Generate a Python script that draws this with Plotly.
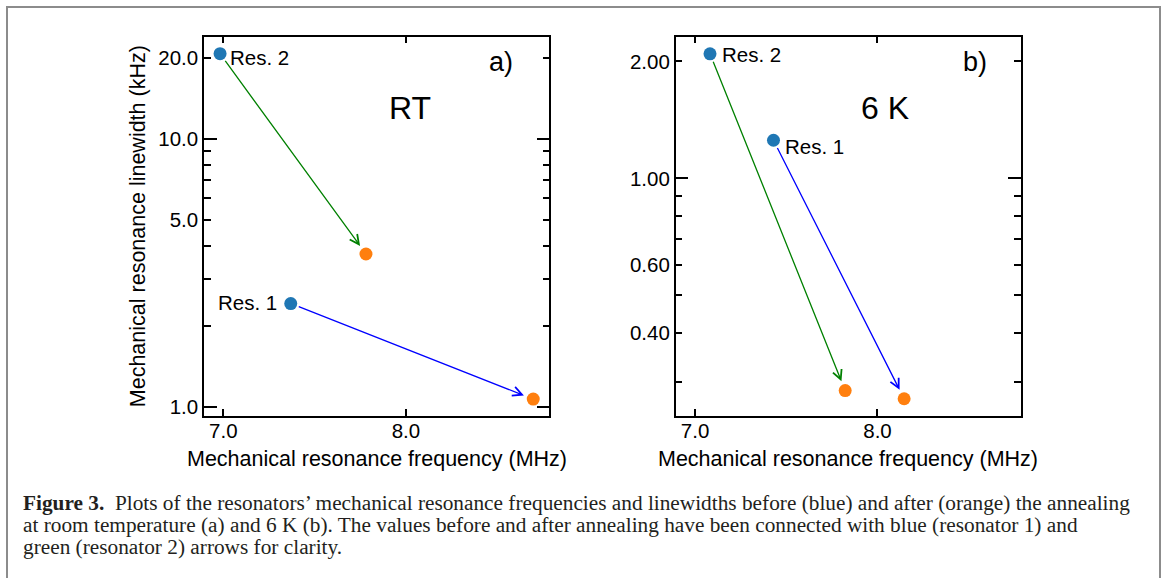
import math
import plotly.graph_objects as go

# ---------------- data ----------------
# order: [Res. 1, Res. 2]
rt_freq_before = [7.369, 6.982]
rt_width_before = [2.43, 20.8]
rt_freq_after = [8.697, 7.781]
rt_width_after = [1.069, 3.72]

k6_freq_before = [7.43, 7.082]
k6_width_before = [1.254, 2.093]
k6_freq_after = [8.146, 7.823]
k6_width_after = [0.271, 0.2845]

res_names = ["Res. 1", "Res. 2"]
arrow_colors = ["blue", "green"]

x_ticks = [7.0, 8.0]
x_ticktext = ["7.0", "8.0"]

rt_y_ticks = [1, 5, 10, 20]
rt_y_ticktext = ["1.0", "5.0", "10.0", "20.0"]
rt_y_minor = [2, 3, 4, 6, 7, 8, 9]
rt_y_major_long = [1, 10]

k6_y_ticks = [0.4, 0.6, 1.0, 2.0]
k6_y_ticktext = ["0.40", "0.60", "1.00", "2.00"]
k6_y_minor = [0.3, 0.5, 0.7, 0.8, 0.9]
k6_y_major_long = [1.0]

caption_lines = [
    "<b>Figure 3.</b>\u00a0\u00a0Plots of the resonators\u2019 mechanical resonance frequencies and linewidths before (blue) and after (orange) the annealing",
    "at room temperature (a) and 6\u00a0K (b). The values before and after annealing have been connected with blue (resonator 1) and",
    "green (resonator 2) arrows for clarity.",
]

# ---------------- style ----------------
W, H = 1165, 578
BLUE = "#1f77b4"
ORANGE = "#ff7f0e"
SANS = "Liberation Sans, Arial, sans-serif"
SERIF = "Liberation Serif, Times New Roman, serif"
TICK_FS = 20.5
TITLE_FS = 21.5

xr = [6.894, 8.785]
rt_range = [math.log10(0.924), math.log10(24.1)]
k6_range = [math.log10(0.2446), math.log10(2.318)]

dom_a = [204 / W, 549.3 / W]
dom_b = [675.7 / W, 1020.7 / W]
dom_y = [1 - 417.5 / H, 1 - 36.7 / H]


def py(p):
    return 1 - p / H


fig = go.Figure()

panels = [
    ("x", "y", "y3", rt_freq_before, rt_width_before, rt_freq_after, rt_width_after),
    ("x2", "y2", "y4", k6_freq_before, k6_width_before, k6_freq_after, k6_width_after),
]

for xa, ya, yo, fb, wb, fa, wa in panels:
    fig.add_trace(go.Scatter(x=fb, y=wb, mode="markers", xaxis=xa, yaxis=ya,
                             marker=dict(color=BLUE, size=13), showlegend=False,
                             hoverinfo="skip"))
    fig.add_trace(go.Scatter(x=fa, y=wa, mode="markers", xaxis=xa, yaxis=ya,
                             marker=dict(color=ORANGE, size=13), showlegend=False,
                             hoverinfo="skip"))
    fig.add_trace(go.Scatter(x=[], y=[], xaxis=xa, yaxis=yo, showlegend=False))
    for i in range(2):
        fig.add_annotation(x=fa[i], y=math.log10(wa[i]), ax=fb[i], ay=math.log10(wb[i]),
                           xref=xa, yref=ya, axref=xa, ayref=ya, text="",
                           showarrow=True, arrowhead=5, arrowsize=1.4, arrowwidth=1.3,
                           arrowcolor=arrow_colors[i], standoff=10, startstandoff=7)

# point labels
label_cfg = [
    # (xref, yref, x, y, text, xanchor, xshift, yshift)
    ("x", "y", rt_freq_before[0], rt_width_before[0], res_names[0], "right", -12, 1),
    ("x", "y", rt_freq_before[1], rt_width_before[1], res_names[1], "left", 8, -4),
    ("x2", "y2", k6_freq_before[0], k6_width_before[0], res_names[0], "left", 10, -6),
    ("x2", "y2", k6_freq_before[1], k6_width_before[1], res_names[1], "left", 10, -1),
]
for xr_, yr_, x, y, t, xan, xs, ys in label_cfg:
    fig.add_annotation(x=x, y=math.log10(y), xref=xr_, yref=yr_, text=t, showarrow=False,
                       xanchor=xan, yanchor="middle", xshift=xs, yshift=ys,
                       font=dict(family=SANS, size=TICK_FS, color="black"))

# panel texts
for t, px, ppy, fs in [("RT", 410, 108, 32), ("6 K", 885, 108, 32),
                       ("a)", 501, 62, 27), ("b)", 975, 62, 27)]:
    fig.add_annotation(x=px / W, y=py(ppy), xref="paper", yref="paper", text=t,
                       showarrow=False, xanchor="center", yanchor="middle",
                       font=dict(family=SANS, size=fs, color="black"))

# axis titles
fig.add_annotation(x=138 / W, y=py(227), xref="paper", yref="paper",
                   text="Mechanical resonance linewidth (kHz)", textangle=-90,
                   showarrow=False, xanchor="center", yanchor="middle",
                   font=dict(family=SANS, size=TITLE_FS, color="black"))
for cx in [376.7, 848.2]:
    fig.add_annotation(x=cx / W, y=py(461), xref="paper", yref="paper",
                       text="Mechanical resonance frequency (MHz)",
                       showarrow=False, xanchor="center", yanchor="middle",
                       font=dict(family=SANS, size=TITLE_FS, color="black"))

# caption
for k, (line, cy) in enumerate(zip(caption_lines, [505, 527, 549])):
    fig.add_annotation(x=21 / W, y=py(cy), xref="paper", yref="paper", text=line,
                       showarrow=False, xanchor="left", yanchor="middle",
                       font=dict(family=SERIF, size=21.3, color="#231f20"))

# frame
fig.add_shape(type="rect", xref="paper", yref="paper", x0=7 / W, x1=1160 / W,
              y0=-0.05, y1=py(7), line=dict(color="#8c8c8c", width=2))

axis_common = dict(showline=True, linecolor="black", linewidth=1.5, mirror="ticks",
                   ticks="inside", tickcolor="black", tickwidth=1.5, showgrid=False,
                   zeroline=False, tickfont=dict(family=SANS, size=TICK_FS, color="black"))

fig.update_layout(
    width=W, height=H, margin=dict(l=0, r=0, t=0, b=0),
    paper_bgcolor="white", plot_bgcolor="white", showlegend=False,
    xaxis=dict(domain=dom_a, anchor="y", range=xr, tickmode="array", tickvals=x_ticks,
               ticktext=x_ticktext, ticklen=7, ticklabelstandoff=-4, **axis_common),
    xaxis2=dict(domain=dom_b, anchor="y2", range=xr, tickmode="array", tickvals=x_ticks,
                ticktext=x_ticktext, ticklen=7, ticklabelstandoff=-4, **axis_common),
    yaxis=dict(domain=dom_y, anchor="x", type="log", range=rt_range, tickmode="array",
               tickvals=rt_y_ticks, ticktext=rt_y_ticktext, ticklen=7,
               minor=dict(tickmode="array", tickvals=rt_y_minor, ticks="inside", ticklen=7,
                          tickcolor="black", tickwidth=1.5),
               **axis_common),
    yaxis3=dict(overlaying="y", anchor="x", side="left", type="log", range=rt_range,
                autorange=False, tickmode="array", tickvals=rt_y_major_long, ticklen=13,
                showticklabels=False, **axis_common),
    yaxis2=dict(domain=dom_y, anchor="x2", type="log", range=k6_range, tickmode="array",
                tickvals=k6_y_ticks, ticktext=k6_y_ticktext, ticklen=7,
                minor=dict(tickmode="array", tickvals=k6_y_minor, ticks="inside", ticklen=7,
                           tickcolor="black", tickwidth=1.5),
                **axis_common),
    yaxis4=dict(overlaying="y2", anchor="x2", side="left", type="log", range=k6_range,
                autorange=False, tickmode="array", tickvals=k6_y_major_long, ticklen=13,
                showticklabels=False, **axis_common),
)

fig.write_html("out.html")
